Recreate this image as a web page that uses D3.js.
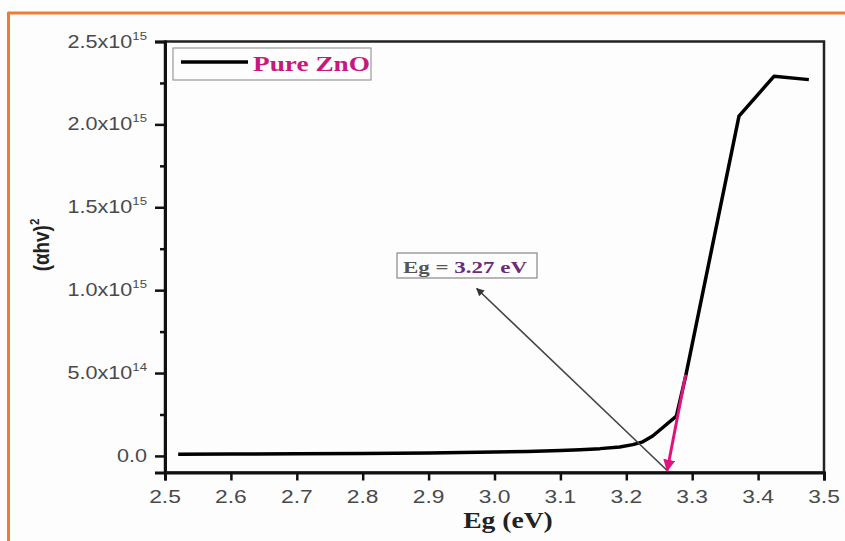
<!DOCTYPE html>
<html>
<head>
<meta charset="utf-8">
<script src="https://cdn.jsdelivr.net/npm/d3@7"></script>
<style>
  body { margin: 0; background: #fdfdfd; }
  svg { display: block; }
</style>
</head>
<body>
<div id="chart"></div>
<script>
// photon energy (eV) and (alpha h v)^2
var energy = [2.52, 2.6, 2.7, 2.8, 2.9, 3.0, 3.05, 3.1, 3.13, 3.16, 3.19, 3.21, 3.225, 3.24, 3.255, 3.276, 3.29, 3.371, 3.424, 3.477];
var absorb = [0.010e15, 0.011e15, 0.013e15, 0.015e15, 0.018e15, 0.023e15, 0.027e15, 0.032e15, 0.037e15, 0.044e15, 0.054e15, 0.068e15, 0.085e15, 0.12e15, 0.17e15, 0.24e15, 0.48e15, 2.05e15, 2.29e15, 2.27e15];

var xTicks = [2.5, 2.6, 2.7, 2.8, 2.9, 3.0, 3.1, 3.2, 3.3, 3.4, 3.5];
var yTicks = [0, 0.5e15, 1.0e15, 1.5e15, 2.0e15, 2.5e15];
var yMinor = [0.25e15, 0.75e15, 1.25e15, 1.75e15, 2.25e15];

// tangent (band gap extrapolation) and pointer arrow
var tangentX = [3.29, 3.262];
var tangentY = [0.49e15, -0.088e15];
var pointerX = [3.262, 2.973];
var pointerY = [-0.088e15, 1.01e15];
var bandGap = "3.27 eV";

var svgWidth = 845;
var svgHeight = 541;

// the source picture is a bit stretched sideways, so texts get a horizontal scale
var stretch = 1.2;

var svg = d3.select("#chart")
  .append("svg")
  .attr("width", svgWidth)
  .attr("height", svgHeight);

// orange frame (top and left only)
svg.append("line").attr("x1", 8).attr("x2", svgWidth).attr("y1", 13).attr("y2", 13)
  .attr("stroke", "#ec7d32").attr("stroke-width", 3);
svg.append("line").attr("x1", 8.5).attr("x2", 8.5).attr("y1", 12).attr("y2", svgHeight)
  .attr("stroke", "#ec7d32").attr("stroke-width", 3);

var plotLeft = 165, plotRight = 824, plotTop = 41.5, plotBottom = 472.5;

var x = d3.scaleLinear().domain([2.5, 3.5]).range([plotLeft, plotRight]);
var y = d3.scaleLinear().domain([-0.1e15, 2.5e15]).range([plotBottom, plotTop]);

// plot frame
svg.append("rect")
  .attr("x", plotLeft).attr("y", plotTop)
  .attr("width", plotRight - plotLeft).attr("height", plotBottom - plotTop)
  .attr("fill", "none").attr("stroke", "#222").attr("stroke-width", 2.5);

// y axis
var yAxis = svg.append("g")
  .attr("transform", `translate(${plotLeft},0)`)
  .call(d3.axisLeft(y).tickValues(yTicks).tickSize(10).tickFormat(""));
yAxis.select(".domain").attr("stroke", "#111").attr("stroke-width", 3);
yAxis.selectAll(".tick line").attr("stroke", "#111").attr("stroke-width", 2.5);

svg.append("g")
  .attr("transform", `translate(${plotLeft},0)`)
  .call(d3.axisLeft(y).tickValues(yMinor).tickSize(5).tickFormat(""))
  .call(g => g.select(".domain").remove())
  .selectAll(".tick line").attr("stroke", "#111").attr("stroke-width", 2.5);

var yLabels = svg.append("g");
yTicks.forEach(function(v) {
  var t = yLabels.append("text")
    .attr("transform", `translate(${plotLeft - 18},${y(v) + 6}) scale(${stretch},1)`)
    .attr("text-anchor", "end")
    .attr("font-family", "Liberation Sans, Arial, sans-serif")
    .attr("font-size", 18)
    .attr("fill", "#4a4a4a");
  if (v === 0) {
    t.text("0.0");
  } else {
    var exp = Math.floor(Math.log10(v) + 1e-9);
    var mant = (v / Math.pow(10, exp)).toFixed(1);
    t.append("tspan").text(mant + "x10");
    t.append("tspan").attr("dy", -8).attr("font-size", 11).text(exp);
  }
});

// x axis
var xAxis = svg.append("g")
  .attr("transform", `translate(0,${plotBottom})`)
  .call(d3.axisBottom(x).tickValues(xTicks).tickSize(8).tickFormat(""));
xAxis.select(".domain").attr("stroke", "#111").attr("stroke-width", 3);
xAxis.selectAll(".tick line").attr("stroke", "#111").attr("stroke-width", 2.5);

svg.append("g").selectAll("text")
  .data(xTicks)
  .enter()
  .append("text")
  .attr("transform", d => `translate(${x(d)},${plotBottom + 30}) scale(${stretch},1)`)
  .attr("text-anchor", "middle")
  .attr("font-family", "Liberation Sans, Arial, sans-serif")
  .attr("font-size", 19)
  .attr("fill", "#4a4a4a")
  .text(d => d3.format(".1f")(d));

// axis titles
svg.append("text")
  .attr("transform", `translate(508,528) scale(${stretch},1)`)
  .attr("text-anchor", "middle")
  .attr("font-family", "Liberation Serif, Times New Roman, serif")
  .attr("font-weight", "bold")
  .attr("font-size", 23)
  .attr("fill", "#222")
  .text("Eg (eV)");

var yTitle = svg.append("text")
  .attr("transform", `translate(49,245) rotate(-90) scale(1.05,1.2)`)
  .attr("text-anchor", "middle")
  .attr("font-family", "Liberation Sans, Arial, sans-serif")
  .attr("font-weight", "bold")
  .attr("font-size", 18)
  .attr("fill", "#222");
yTitle.append("tspan").text("(\u03B1hv)");
yTitle.append("tspan").attr("dy", -8).attr("font-size", 11).text("2");

// data line
var data = energy.map((e, i) => ({ e: e, a: absorb[i] }));
var line = d3.line().x(d => x(d.e)).y(d => y(d.a));

svg.append("path")
  .datum(data)
  .attr("d", line)
  .attr("fill", "none")
  .attr("stroke", "#000")
  .attr("stroke-width", 3.5)
  .attr("stroke-linejoin", "round");

// arrow markers
var defs = svg.append("defs");
defs.append("marker")
  .attr("id", "pinkHead")
  .attr("viewBox", "0 0 10 10")
  .attr("refX", 9).attr("refY", 5)
  .attr("markerWidth", 4).attr("markerHeight", 4)
  .attr("markerUnits", "strokeWidth")
  .attr("orient", "auto")
  .append("path").attr("d", "M0,0 L10,5 L0,10 Z").attr("fill", "#e0137c");
defs.append("marker")
  .attr("id", "grayHead")
  .attr("viewBox", "0 0 10 10")
  .attr("refX", 9).attr("refY", 5)
  .attr("markerWidth", 7).attr("markerHeight", 5)
  .attr("markerUnits", "strokeWidth")
  .attr("orient", "auto")
  .append("path").attr("d", "M0,0 L10,5 L0,10 Z").attr("fill", "#333");

// gray pointer from intercept to label
svg.append("line")
  .attr("x1", x(pointerX[0])).attr("y1", y(pointerY[0]))
  .attr("x2", x(pointerX[1])).attr("y2", y(pointerY[1]))
  .attr("stroke", "#444").attr("stroke-width", 1.6)
  .attr("marker-end", "url(#grayHead)");

// pink tangent
svg.append("line")
  .attr("x1", x(tangentX[0])).attr("y1", y(tangentY[0]))
  .attr("x2", x(tangentX[1])).attr("y2", y(tangentY[1]))
  .attr("stroke", "#e0137c").attr("stroke-width", 3)
  .attr("marker-end", "url(#pinkHead)");

// band gap label box
svg.append("rect")
  .attr("x", 397).attr("y", 253).attr("width", 140).attr("height", 25)
  .attr("fill", "#fdfdfd").attr("stroke", "#888").attr("stroke-width", 1.2);
var gapText = svg.append("text")
  .attr("transform", `translate(465,273) scale(1.35,1)`)
  .attr("text-anchor", "middle")
  .attr("font-family", "Liberation Serif, Times New Roman, serif")
  .attr("font-size", 17)
  .attr("font-weight", "bold");
gapText.append("tspan").attr("fill", "#555").text("Eg = ");
gapText.append("tspan").attr("fill", "#6d2a78").text(bandGap);

// legend
svg.append("rect")
  .attr("x", 173).attr("y", 48).attr("width", 198).attr("height", 32)
  .attr("fill", "none").attr("stroke", "#999").attr("stroke-width", 1.2);
svg.append("line")
  .attr("x1", 181).attr("x2", 248).attr("y1", 62).attr("y2", 62)
  .attr("stroke", "#000").attr("stroke-width", 3.5);
svg.append("text")
  .attr("transform", `translate(253,71) scale(1.3,1)`)
  .attr("font-family", "Liberation Serif, Times New Roman, serif")
  .attr("font-weight", "bold")
  .attr("font-size", 21)
  .attr("fill", "#c9177c")
  .text("Pure ZnO");
</script>
</body>
</html>
